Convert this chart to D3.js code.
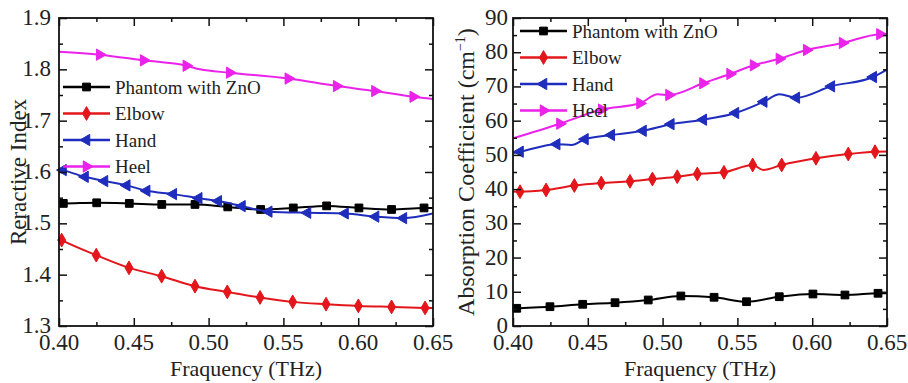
<!DOCTYPE html>
<html><head><meta charset="utf-8">
<script src="https://cdnjs.cloudflare.com/ajax/libs/d3/7.8.5/d3.min.js"></script>
<style>body{margin:0;background:#fff}svg{display:block}svg text{font-family:"Liberation Serif",serif !important}</style>
</head><body><svg id="c" width="908" height="383"></svg>
<script>
// ---------- data ----------
const seriesNames = ["Phantom with ZnO", "Elbow", "Hand", "Heel"];
const seriesColors = ["#000000", "#e3161b", "#1f2dbd", "#ea22ea"];
const xTicks = [0.40, 0.45, 0.50, 0.55, 0.60, 0.65];
const xTickLabels = ["0.40", "0.45", "0.50", "0.55", "0.60", "0.65"];
const leftYTicks = [1.3, 1.4, 1.5, 1.6, 1.7, 1.8, 1.9];
const rightYTicks = [0, 10, 20, 30, 40, 50, 60, 70, 80, 90];

// Refractive index (left panel)
const riPhantomF = [0.400, 0.4029, 0.4252, 0.4470, 0.4687, 0.4909, 0.5128, 0.5348, 0.5566, 0.5789, 0.6005, 0.6223, 0.6440, 0.650];
const riPhantomV = [1.539, 1.5388, 1.540, 1.5388, 1.5368, 1.5368, 1.532, 1.527, 1.530, 1.534, 1.530, 1.527, 1.530, 1.530];
const riPhantomM = [1, 2, 3, 4, 5, 6, 7, 8, 9, 10, 11, 12];
const riElbowF = [0.400, 0.4018, 0.4249, 0.4468, 0.4686, 0.4909, 0.5125, 0.5344, 0.5562, 0.5785, 0.6001, 0.6223, 0.6447, 0.650];
const riElbowV = [1.470, 1.4673, 1.438, 1.4133, 1.397, 1.3776, 1.3665, 1.3556, 1.347, 1.3425, 1.3392, 1.3372, 1.3353, 1.335];
const riElbowM = [1, 2, 3, 4, 5, 6, 7, 8, 9, 10, 11, 12];
const riHandF = [0.400, 0.4027, 0.4174, 0.4304, 0.4453, 0.4586, 0.4764, 0.4934, 0.5065, 0.5223, 0.5402, 0.5661, 0.5912, 0.6116, 0.6302, 0.650];
const riHandV = [1.606, 1.6037, 1.5906, 1.5823, 1.5739, 1.5634, 1.5569, 1.5491, 1.5433, 1.5335, 1.5228, 1.5205, 1.5193, 1.513, 1.5101, 1.519];
const riHandM = [1, 2, 3, 4, 5, 6, 7, 8, 9, 10, 11, 12, 13, 14];
const riHeelF = [0.400, 0.4272, 0.4566, 0.4851, 0.4943, 0.5141, 0.5533, 0.5856, 0.6112, 0.6368, 0.650];
const riHeelV = [1.8343, 1.8285, 1.8175, 1.807, 1.800, 1.7934, 1.7821, 1.7674, 1.7577, 1.7466, 1.7421];
const riHeelM = [1, 2, 3, 5, 6, 7, 8, 9];

// Absorption coefficient (right panel)
const acPhantomF = [0.400, 0.4025, 0.4247, 0.4466, 0.4682, 0.4904, 0.5122, 0.5344, 0.5561, 0.5780, 0.6005, 0.6219, 0.6440, 0.650];
const acPhantomV = [5.1, 5.17, 5.64, 6.34, 6.81, 7.6, 8.77, 8.39, 7.1, 8.56, 9.35, 9.06, 9.56, 9.6];
const acPhantomM = [1, 2, 3, 4, 5, 6, 7, 8, 9, 10, 11, 12];
const acElbowF = [0.400, 0.4047, 0.4221, 0.4410, 0.4590, 0.4782, 0.4932, 0.5098, 0.5232, 0.5410, 0.5602, 0.5673, 0.5796, 0.6025, 0.6241, 0.6420, 0.650];
const acElbowV = [39.3, 39.24, 39.74, 41.05, 41.79, 42.28, 42.95, 43.63, 44.42, 44.91, 47.05, 45.58, 47.05, 49.0, 50.26, 50.93, 51.0];
const acElbowM = [1, 2, 3, 4, 5, 6, 7, 8, 9, 10, 12, 13, 14, 15];
const acHandF = [0.400, 0.4047, 0.4292, 0.4392, 0.4481, 0.4657, 0.4869, 0.5055, 0.5272, 0.5487, 0.5676, 0.5783, 0.5894, 0.6128, 0.6408, 0.650];
const acHandV = [50.55, 50.93, 53.12, 52.89, 54.59, 55.81, 57.04, 58.97, 60.28, 62.24, 65.54, 67.73, 66.71, 70.04, 72.76, 74.9];
const acHandM = [1, 2, 4, 5, 6, 7, 8, 9, 10, 12, 13, 14];
const acHeelF = [0.400, 0.4314, 0.4593, 0.4849, 0.4967, 0.5043, 0.5270, 0.5451, 0.5608, 0.5781, 0.5963, 0.6203, 0.6453, 0.650];
const acHeelV = [54.85, 59.11, 63.26, 65.07, 67.7, 67.5, 70.92, 73.64, 76.18, 78.08, 80.65, 82.7, 85.27, 85.3];
const acHeelM = [1, 2, 3, 5, 6, 7, 8, 9, 10, 11, 12];

// ---------- drawing ----------
const FONT = "Liberation Serif";
const svg = d3.select("#c");
svg.append("rect").attr("width", 908).attr("height", 383).attr("fill", "#fff");

function txt(parent, size) {
  return parent.append("text").attr("font-family", FONT).attr("font-size", size).attr("fill", "#222");
}

const shapes = [
  d3.symbol().type(d3.symbolSquare).size(60),
  d3.symbol().type(d3.symbolDiamond).size(55),
  d3.symbol().type(d3.symbolTriangle).size(55),
  d3.symbol().type(d3.symbolTriangle).size(55)
];
const rotations = [0, 0, -90, 90];

function marker(g, i, x, y) {
  g.append("path").attr("d", shapes[i]())
    .attr("transform", `translate(${x},${y}) rotate(${rotations[i]})`)
    .attr("fill", seriesColors[i]).attr("stroke", seriesColors[i]).attr("stroke-width", 1);
}

function panel(opts) {
  const {x0, x1, y0, y1, yDomain, yTicks, yMinorStep, yFmt, series, legendX, legendY, yTitle, yTitleX, yLabelGap} = opts;
  const g = svg.append("g");
  const x = d3.scaleLinear().domain([0.40, 0.65]).range([x0, x1]);
  const y = d3.scaleLinear().domain(yDomain).range([y1, y0]);
  const clipId = "clip" + x0;
  svg.append("clipPath").attr("id", clipId).append("rect")
    .attr("x", x0).attr("y", y0).attr("width", x1 - x0).attr("height", y1 - y0);

  // series
  const line = d3.line().x(d => x(d[0])).y(d => y(d[1])).curve(d3.curveMonotoneX);
  series.forEach((s, i) => {
    const pts = s.f.map((f, k) => [f, s.v[k]]);
    g.append("path").attr("d", line(pts)).attr("fill", "none")
      .attr("stroke", seriesColors[i]).attr("stroke-width", 2).attr("clip-path", `url(#${clipId})`);
    const mg = g.append("g");
    s.m.forEach(k => marker(mg, i, x(s.f[k]), y(s.v[k])));
  });

  // legend
  const lg = g.append("g");
  seriesNames.forEach((name, i) => {
    const ly = legendY + i * 26.5;
    lg.append("line").attr("x1", legendX).attr("x2", legendX + 47).attr("y1", ly).attr("y2", ly)
      .attr("stroke", seriesColors[i]).attr("stroke-width", 2.5);
    marker(lg, i, legendX + 23.5, ly);
    txt(lg, 19).attr("x", legendX + 52).attr("y", ly + 6.5).text(name);
  });

  // axes (ticks inward)
  const xMinor = d3.range(0.425, 0.65, 0.05);
  const bottom = d3.axisTop(x).tickValues(xTicks).tickSize(8).tickFormat("");
  const bottomMinor = d3.axisTop(x).tickValues(xMinor).tickSize(4).tickFormat("");
  const top = d3.axisBottom(x).tickValues(xTicks).tickSize(8).tickFormat("");
  const topMinor = d3.axisBottom(x).tickValues(xMinor).tickSize(4).tickFormat("");
  const yMinor = d3.range(yDomain[0] + yMinorStep, yDomain[1], yMinorStep * 2);
  const left = d3.axisRight(y).tickValues(yTicks).tickSize(8).tickFormat("");
  const leftMinor = d3.axisRight(y).tickValues(yMinor).tickSize(4).tickFormat("");
  const right = d3.axisLeft(y).tickValues(yTicks).tickSize(8).tickFormat("");
  const rightMinor = d3.axisLeft(y).tickValues(yMinor).tickSize(4).tickFormat("");
  const ax = svg.append("g");
  [[bottom, `translate(0,${y1})`], [bottomMinor, `translate(0,${y1})`],
   [top, `translate(0,${y0})`], [topMinor, `translate(0,${y0})`],
   [left, `translate(${x0},0)`], [leftMinor, `translate(${x0},0)`],
   [right, `translate(${x1},0)`], [rightMinor, `translate(${x1},0)`]].forEach(([a, t]) => {
    const e = ax.append("g").attr("transform", t).call(a);
    e.select(".domain").remove();
    e.selectAll("text").remove();
    e.selectAll("line").attr("stroke", "#111").attr("stroke-width", 1.5);
  });
  ax.append("rect").attr("x", x0).attr("y", y0).attr("width", x1 - x0).attr("height", y1 - y0)
    .attr("fill", "none").attr("stroke", "#111").attr("stroke-width", 1.8);

  // tick labels
  const tl = svg.append("g");
  xTicks.forEach((t, i) => {
    txt(tl, 23).attr("x", x(t)).attr("y", y1 + 24).attr("text-anchor", "middle").text(xTickLabels[i]);
  });
  yTicks.forEach(t => {
    txt(tl, 23).attr("x", x0 - yLabelGap).attr("y", y(t) + 7).attr("text-anchor", "end").text(yFmt(t));
  });

  // titles
  txt(svg, 22).attr("x", (x0 + x1) / 2).attr("y", y1 + 50).attr("text-anchor", "middle").text("Fraquency (THz)");
  const yt = txt(svg, 23).attr("transform", `translate(${yTitleX},${(y0 + y1) / 2}) rotate(-90)`)
    .attr("text-anchor", "middle");
  yTitle(yt);
}

panel({
  x0: 59, x1: 433, y0: 18, y1: 326, yDomain: [1.3, 1.9], yTicks: leftYTicks, yMinorStep: 0.05,
  yFmt: d3.format(".1f"), yLabelGap: 8,
  series: [
    {f: riPhantomF, v: riPhantomV, m: riPhantomM},
    {f: riElbowF, v: riElbowV, m: riElbowM},
    {f: riHandF, v: riHandV, m: riHandM},
    {f: riHeelF, v: riHeelV, m: riHeelM}
  ],
  legendX: 63, legendY: 87, yTitleX: 26,
  yTitle: t => t.text("Reractive Index")
});

panel({
  x0: 513, x1: 887, y0: 18, y1: 326, yDomain: [0, 90], yTicks: rightYTicks, yMinorStep: 5,
  yFmt: d3.format("d"), yLabelGap: 5,
  series: [
    {f: acPhantomF, v: acPhantomV, m: acPhantomM},
    {f: acElbowF, v: acElbowV, m: acElbowM},
    {f: acHandF, v: acHandV, m: acHandM},
    {f: acHeelF, v: acHeelV, m: acHeelM}
  ],
  legendX: 520, legendY: 31, yTitleX: 474,
  yTitle: t => {
    t.append("tspan").attr("font-size", 24).text("Absorption Coefficient (cm");
    t.append("tspan").attr("dy", -9).attr("font-size", 14).text("−1");
    t.append("tspan").attr("dy", 9).attr("font-size", 24).text(")");
  }
});
</script></body></html>
